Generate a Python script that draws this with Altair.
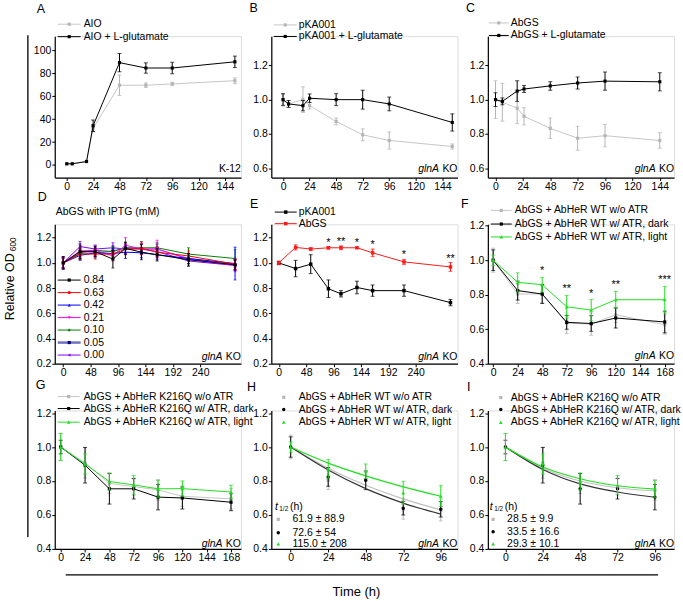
import altair as alt
import pandas as pd

FONT = "Liberation Sans"
LGRAY = "#c6c6c6"
PGRAY = "#b5b5b5"
BLK = "#000000"
GRN = "#1fe01f"
RED = "#ff1a1a"

# ---------------- data ----------------
# Panel A (K-12)
A_t = [0, 5, 18, 24, 48, 72, 96, 153]
A_aio = [1, 1, 3, 32, 69.6, 69.6, 70.7, 73.5]
A_aio_err = [0, 0, 0, 3, 9, 2, 1.5, 2.5]
A_glu = [1, 1, 3, 34.2, 89.3, 84.6, 84.6, 90.0]
A_glu_err = [0, 0, 0, 5, 8, 4.5, 5, 5]

# Panel B
B_t = [0, 5, 18, 24, 48, 72, 96, 153]
B_pka = [1.0, 0.975, 1.0, 0.965, 0.873, 0.795, 0.762, 0.727]
B_pka_err = [0.03, 0.02, 0.075, 0.02, 0.02, 0.035, 0.05, 0.015]
B_glu = [1.0, 0.975, 0.965, 1.008, 1.0, 1.0, 0.975, 0.867]
B_glu_err = [0.035, 0.02, 0.03, 0.025, 0.035, 0.055, 0.04, 0.05]

# Panel C
C_t = [0, 6, 19, 25, 48, 72, 96, 144]
C_abgs = [1.0, 0.985, 0.95, 0.903, 0.833, 0.775, 0.79, 0.762]
C_abgs_err = [0.11, 0.11, 0.09, 0.05, 0.06, 0.07, 0.065, 0.045]
C_glu = [1.0, 0.99, 1.05, 1.062, 1.08, 1.097, 1.108, 1.104]
C_glu_err = [0.04, 0.02, 0.06, 0.02, 0.025, 0.035, 0.053, 0.053]

# Panel D (IPTG series) and E share time points
DE_t = [0, 29.5, 56, 87, 109, 137, 164.5, 219.5, 301]
D_names = ["0.84", "0.63", "0.42", "0.21", "0.10", "0.05", "0.00"]
D_vals = [
    [1.0, 1.09, 1.09, 1.03, 1.115, 1.085, 1.065, 1.025, 0.985],
    [1.0, 1.07, 1.07, 1.07, 1.11, 1.115, 1.085, 1.055, 0.99],
    [1.0, 1.06, 1.08, 1.075, 1.085, 1.08, 1.065, 1.035, 0.995],
    [1.0, 1.095, 1.10, 1.055, 1.14, 1.11, 1.11, 1.03, 0.98],
    [1.0, 1.08, 1.10, 1.09, 1.12, 1.12, 1.12, 1.07, 1.035],
    [1.0, 1.075, 1.08, 1.095, 1.12, 1.11, 1.11, 1.035, 0.985],
    [1.0, 1.13, 1.11, 1.12, 1.11, 1.11, 1.09, 1.015, 0.98],
]
D_errs = [
    [0.05, 0.06, 0.04, 0.07, 0.05, 0.06, 0.05, 0.05, 0.04],
    [0.04, 0.04, 0.04, 0.03, 0.04, 0.05, 0.04, 0.04, 0.04],
    [0.05, 0.04, 0.04, 0.04, 0.05, 0.04, 0.04, 0.04, 0.13],
    [0.04, 0.04, 0.04, 0.04, 0.06, 0.04, 0.07, 0.04, 0.05],
    [0.04, 0.04, 0.04, 0.04, 0.04, 0.05, 0.04, 0.05, 0.07],
    [0.04, 0.04, 0.03, 0.04, 0.04, 0.04, 0.04, 0.04, 0.04],
    [0.04, 0.04, 0.03, 0.04, 0.04, 0.04, 0.04, 0.04, 0.04],
]
D_line_colors = ["#000000", "#ff0000", "#0000ff", "#ff00ff", "#008000", "#7070c0", "#8000ff"]
D_pt_colors = ["#000000", "#ff0000", "#0000ff", "#ff00ff", "#008000", "#000080", "#8000ff"]
D_shapes = ["square", "circle", "triangle-up", "triangle-down", "diamond", "square", "triangle-left"]

E_pka = [1.0, 0.955, 0.99, 0.795, 0.755, 0.805, 0.78, 0.78, 0.685]
E_pka_err = [0.01, 0.065, 0.075, 0.07, 0.025, 0.05, 0.045, 0.045, 0.025]
E_abgs = [1.0, 1.123, 1.11, 1.12, 1.12, 1.12, 1.08, 1.008, 0.968]
E_abgs_err = [0.015, 0.02, 0.01, 0.01, 0.015, 0.005, 0.03, 0.02, 0.035]
E_stars = ["", "", "", "*", "**", "*", "*", "*", "**"]

# Panel F (and H points)
F_t = [0, 24, 48, 72, 96, 120, 168]
F_wo = [1.0, 0.804, 0.804, 0.635, 0.63, 0.684, 0.626]
F_wo_err = [0.07, 0.055, 0.05, 0.06, 0.065, 0.045, 0.055]
F_dark = [1.0, 0.824, 0.804, 0.64, 0.633, 0.665, 0.642]
F_dark_err = [0.06, 0.055, 0.055, 0.04, 0.045, 0.058, 0.063]
F_light = [1.0, 0.872, 0.858, 0.73, 0.711, 0.771, 0.771]
F_light_err = [0.03, 0.055, 0.042, 0.066, 0.061, 0.048, 0.077]
F_stars = ["", "", "*", "**", "*", "**", "***"]

# Panel G (and I points)
G_t = [0, 24, 48, 72, 96, 120, 168]
G_wo = [1.0, 0.907, 0.786, 0.767, 0.748, 0.71, 0.695]
G_wo_err = [0.08, 0.09, 0.06, 0.05, 0.06, 0.06, 0.06]
G_dark = [1.0, 0.893, 0.754, 0.754, 0.705, 0.70, 0.675]
G_dark_err = [0.04, 0.105, 0.09, 0.06, 0.075, 0.065, 0.05]
G_light = [1.0, 0.90, 0.797, 0.777, 0.754, 0.755, 0.735]
G_light_err = [0.08, 0.06, 0.05, 0.055, 0.05, 0.045, 0.04]

# Fitted decay curves
FIT_t = [0, 24, 48, 72, 96]
H_fit_wo = [1.0, 0.875, 0.775, 0.695, 0.63]
H_fit_dark = [1.0, 0.865, 0.755, 0.67, 0.605]
H_fit_light = [1.0, 0.905, 0.83, 0.765, 0.71]
H_half = ["61.9 ± 88.9", "72.6 ± 54", "115.0 ± 208"]
I_fit_wo = [1.0, 0.875, 0.80, 0.76, 0.741]
I_fit_dark = [1.0, 0.868, 0.783, 0.735, 0.704]
I_fit_light = [1.0, 0.882, 0.813, 0.772, 0.752]
I_half = ["28.5 ± 9.9", "33.5 ± 16.6", "29.3 ± 10.1"]

WT_names = ["AbGS + AbHeR WT w/o ATR", "AbGS + AbHeR WT w/ ATR, dark", "AbGS + AbHeR WT w/ ATR, light"]
KQ_names = ["AbGS + AbHeR K216Q w/o ATR", "AbGS + AbHeR K216Q w/ ATR, dark", "AbGS + AbHeR K216Q w/ ATR, light"]

# ---------------- helpers ----------------
W = 187
H1, H2, H3 = 142, 140, 139
ONE = pd.DataFrame({"k": [0]})


def txt(x, y, s, size=10.5, align="left", baseline="alphabetic", style="normal", angle=None):
    kw = dict(text=s, align=align, baseline=baseline, fontSize=size, font=FONT,
              color="black", fontStyle=style)
    if angle is not None:
        kw["angle"] = angle
    return alt.Chart(ONE).mark_text(**kw).encode(x=alt.value(x), y=alt.value(y))


def hrule(x1, x2, y, color="black", width=1.0):
    return alt.Chart(ONE).mark_rule(color=color, strokeWidth=width).encode(
        x=alt.value(x1), x2=alt.value(x2), y=alt.value(y))


def vrule(x, y1, y2, color="black", width=1.0):
    return alt.Chart(ONE).mark_rule(color=color, strokeWidth=width).encode(
        x=alt.value(x), y=alt.value(y1), y2=alt.value(y2))


def marker(x, y, shape, color, size):
    return alt.Chart(ONE).mark_point(shape=shape, filled=True, size=size, color=color,
                                     opacity=1).encode(x=alt.value(x), y=alt.value(y))


def axis(values, fmt):
    return alt.Axis(values=values, format=fmt, grid=False, title=None, labelFont=FONT,
                    labelFontSize=10.5, labelColor="black", domainColor="black",
                    tickColor="black", tickSize=3, tickWidth=1, domainWidth=1.2,
                    labelPadding=1, labelOverlap=False, labelFlush=False)


def sc(dom):
    return alt.Scale(domain=dom, nice=False, zero=False)


class P:
    def __init__(self, xd, yd, xt, yt, yfmt=".1f"):
        self.xs, self.ys = sc(xd), sc(yd)
        self.xa, self.ya = axis(xt, "d"), axis(yt, yfmt)

    def X(self):
        return alt.X("t:Q", scale=self.xs, axis=self.xa)

    def Y(self, f):
        return alt.Y(f + ":Q", scale=self.ys, axis=self.ya)


def series(p, t, v, e, lc, pc, shape, size, line=True, cap=4, lw=1.0):
    df = pd.DataFrame({"t": t, "v": v, "e": e})
    df["lo"] = df.v - df.e
    df["hi"] = df.v + df.e
    de = df[df.e > 0]
    L = [
        alt.Chart(de).mark_rule(color=pc, strokeWidth=1).encode(x=p.X(), y=p.Y("lo"), y2="hi:Q"),
        alt.Chart(de).mark_tick(color=pc, orient="horizontal", size=cap, thickness=1).encode(x=p.X(), y=p.Y("hi")),
        alt.Chart(de).mark_tick(color=pc, orient="horizontal", size=cap, thickness=1).encode(x=p.X(), y=p.Y("lo")),
    ]
    if line:
        L.append(alt.Chart(df).mark_line(color=lc, strokeWidth=lw).encode(x=p.X(), y=p.Y("v")))
    L.append(alt.Chart(df).mark_point(shape=shape, filled=True, size=size, color=pc, opacity=1)
             .encode(x=p.X(), y=p.Y("v")))
    return L


def stars(p, t, v, e, labels, dy):
    df = pd.DataFrame({"t": t, "hi": [a + b for a, b in zip(v, e)], "lab": labels})
    df = df[df.lab != ""]
    return alt.Chart(df).mark_text(fontSize=11, font=FONT, color="black", baseline="alphabetic",
                                   dy=dy).encode(x=p.X(), y=p.Y("hi"), text="lab:N")


def fitline(p, t, v, color):
    df = pd.DataFrame({"t": t, "v": v})
    return alt.Chart(df).mark_line(color=color, strokeWidth=1.2, interpolate="monotone").encode(
        x=p.X(), y=p.Y("v"))


def leg_line(x1, x2, y, tx, label, lc, pc, shape, size, lw=1.0):
    return [hrule(x1, x2, y, lc, lw), marker((x1 + x2) / 2, y, shape, pc, size),
            txt(tx, y, label, baseline="middle")]


def leg_pt(mx, y, tx, label, pc, shape, size):
    return [marker(mx, y, shape, pc, size), txt(tx, y, label, baseline="middle")]


def glna(yb):
    return [txt(W, yb, "KO", align="right"), txt(W - 18.5, yb, "glnA", align="right", style="italic")]


def thalf(x, y):
    return [txt(x, y, "t", style="italic", baseline="middle"),
            txt(x + 4.3, y + 2, "1/2", size=6.5, baseline="middle"),
            txt(x + 15, y, "(h)", baseline="middle")]


# ---------------- panels ----------------
# A
pA = P([-10.9, 158.5], [-11.0, 112.4], [0, 24, 48, 72, 96, 120, 144], [0, 20, 40, 60, 80, 100], "d")
LA = [hrule(-54, -53.9, -34, "white", 0.1)]
LA += series(pA, A_t, A_aio, A_aio_err, LGRAY, PGRAY, "square", 10)
LA += series(pA, A_t, A_glu, A_glu_err, BLK, BLK, "square", 10)
LA += leg_line(3, 26, -12, 29, "AIO", LGRAY, PGRAY, "square", 10)
LA += leg_line(3, 26, 0.5, 29, "AIO + L-glutamate", BLK, BLK, "square", 10)
LA += [txt(W, 136, "K-12", align="right"), txt(-18, -23, "A", size=12.5)]
panelA = alt.layer(*LA).properties(width=W, height=H1)

# B
pB = P([-10.6, 157.7], [0.546, 1.370], [0, 24, 48, 72, 96, 120, 144], [0.6, 0.8, 1.0, 1.2])
LB = []
LB += series(pB, B_t, B_pka, B_pka_err, LGRAY, PGRAY, "square", 10)
LB += series(pB, B_t, B_glu, B_glu_err, BLK, BLK, "square", 10)
LB += leg_line(2.5, 25.5, -11.3, 27.5, "pKA001", LGRAY, PGRAY, "square", 10)
LB += leg_line(2.5, 25.5, 0.3, 27.5, "pKA001 + L-glutamate", BLK, BLK, "square", 10)
LB += glna(136) + [txt(-22, -24, "B", size=12.5)]
panelB = alt.layer(*LB).properties(width=W, height=H1)

# C
pC = P([-6.7, 156.5], [0.546, 1.370], [0, 24, 48, 72, 96, 120, 144], [0.6, 0.8, 1.0, 1.2])
LC = []
LC += series(pC, C_t, C_abgs, C_abgs_err, LGRAY, PGRAY, "square", 10)
LC += series(pC, C_t, C_glu, C_glu_err, BLK, BLK, "square", 10)
LC += leg_line(1, 21, -13.3, 23, "AbGS", LGRAY, PGRAY, "square", 10)
LC += leg_line(1, 21, -0.7, 23, "AbGS + L-glutamate", BLK, BLK, "square", 10)
LC += glna(136) + [txt(-22, -24, "C", size=12.5)]
panelC = alt.layer(*LC).properties(width=W, height=H1)

# D
pD = P([-14.8, 311.3], [0.2, 1.306], [0, 48, 96, 144, 192, 240], [0.2, 0.4, 0.6, 0.8, 1.0, 1.2])
LD = []
for i in reversed(range(len(D_names))):
    LD += series(pD, DE_t, D_vals[i], D_errs[i], D_line_colors[i], D_pt_colors[i], D_shapes[i], 9, cap=3)
for i, n in enumerate(D_names):
    LD += leg_line(3, 26, 56 + 12.55 * i, 29, n, D_line_colors[i], D_pt_colors[i], D_shapes[i], 10,
                   lw=2.5 if n == "0.05" else 1.0)
LD += [txt(1, -12, "AbGS with IPTG (mM)", baseline="middle")]
LD += glna(136) + [txt(-17, -23, "D", size=12.5)]
# shared y-axis title and bracket line
LD += [vrule(-27, -190, 314, "black", 1.3),
       txt(-41, 62.7, "Relative OD", size=12.5, align="center", angle=270),
       txt(-38.7, 20, "600", size=8.5, align="center", angle=270)]
panelD = alt.layer(*LD).properties(width=W, height=H2)

# E
pE = P([-13.1, 313.3], [0.2, 1.306], [0, 48, 96, 144, 192, 240], [0.2, 0.4, 0.6, 0.8, 1.0, 1.2])
LE = []
LE += series(pE, DE_t, E_pka, E_pka_err, BLK, BLK, "square", 12)
LE += series(pE, DE_t, E_abgs, E_abgs_err, RED, RED, "square", 12)
LE += [stars(pE, DE_t, E_abgs, E_abgs_err, E_stars, -1)]
LE += leg_line(3.5, 25.5, -12.3, 27.5, "pKA001", BLK, BLK, "square", 12)
LE += leg_line(3.5, 25.5, -0.7, 27.5, "AbGS", RED, RED, "square", 12)
LE += glna(136) + [txt(-21.5, -16, "E", size=12.5)]
panelE = alt.layer(*LE).properties(width=W, height=H2)

# F
pF = P([-5.2, 177.1], [0.4, 1.208], [0, 24, 48, 72, 96, 120, 144, 168], [0.4, 0.6, 0.8, 1.0, 1.2])
LF = []
LF += series(pF, F_t, F_wo, F_wo_err, LGRAY, PGRAY, "square", 10)
LF += series(pF, F_t, F_dark, F_dark_err, BLK, BLK, "square", 10)
LF += series(pF, F_t, F_light, F_light_err, GRN, GRN, "triangle-up", 14)
LF += [stars(pF, F_t, F_light, F_light_err, F_stars, -3)]
LF += leg_line(3, 24, -14, 27, WT_names[0], LGRAY, PGRAY, "square", 10)
LF += leg_line(3, 24, -0.3, 27, WT_names[1], BLK, BLK, "square", 10)
LF += leg_line(3, 24, 12.7, 27, WT_names[2], GRN, GRN, "triangle-up", 14)
LF += glna(135) + [txt(-27, -16, "F", size=12.5)]
panelF = alt.layer(*LF).properties(width=W, height=H2)

# G
pG = P([-5.9, 177.8], [0.4, 1.215], [0, 24, 48, 72, 96, 120, 144, 168], [0.4, 0.6, 0.8, 1.0, 1.2])
LG = []
LG += series(pG, G_t, G_wo, G_wo_err, LGRAY, PGRAY, "square", 10)
LG += series(pG, G_t, G_dark, G_dark_err, BLK, BLK, "square", 10)
LG += series(pG, G_t, G_light, G_light_err, GRN, GRN, "triangle-up", 14)
LG += leg_line(3, 25, -14, 29, KQ_names[0], LGRAY, PGRAY, "square", 10)
LG += leg_line(3, 25, -2, 29, KQ_names[1], BLK, BLK, "square", 10)
LG += leg_line(3, 25, 11.7, 29, KQ_names[2], GRN, GRN, "triangle-up", 14)
LG += glna(137) + [txt(-19, -22, "G", size=12.5)]
panelG = alt.layer(*LG).properties(width=W, height=H3)

# H
pH = P([-12.4, 106.7], [0.4, 1.215], [0, 24, 48, 72, 96], [0.4, 0.6, 0.8, 1.0, 1.2])
LH = [fitline(pH, FIT_t, H_fit_wo, "#c0c0c0"), fitline(pH, FIT_t, H_fit_dark, "#333333"),
      fitline(pH, FIT_t, H_fit_light, GRN)]
LH += series(pH, F_t[:5], F_wo[:5], F_wo_err[:5], LGRAY, PGRAY, "square", 10, line=False)
LH += series(pH, F_t[:5], F_dark[:5], F_dark_err[:5], BLK, BLK, "circle", 12, line=False)
LH += series(pH, F_t[:5], F_light[:5], F_light_err[:5], GRN, GRN, "triangle-up", 14, line=False)
LH += leg_pt(12.5, -13.3, 27.5, WT_names[0], PGRAY, "square", 10)
LH += leg_pt(12.5, -1, 27.5, WT_names[1], BLK, "circle", 12)
LH += leg_pt(12.5, 11.7, 27.5, WT_names[2], GRN, "triangle-up", 14)
LH += thalf(3.7, 96.7)
LH += leg_pt(7, 109.3, 21.3, H_half[0], PGRAY, "square", 10)
LH += leg_pt(7, 122.7, 21.3, H_half[1], BLK, "circle", 12)
LH += leg_pt(7, 134, 21.3, H_half[2], GRN, "triangle-up", 14)
LH += glna(137) + [txt(-24.5, -20, "H", size=12.5)]
LH += [hrule(-206.5, 388.5, 165, "black", 1.3), txt(85.5, 186, "Time (h)", size=13, align="center")]
panelH = alt.layer(*LH).properties(width=W, height=H3)

# I
pI = P([-11.3, 108.3], [0.4, 1.215], [0, 24, 48, 72, 96], [0.4, 0.6, 0.8, 1.0, 1.2])
LI = [fitline(pI, FIT_t, I_fit_wo, "#c0c0c0"), fitline(pI, FIT_t, I_fit_dark, "#333333"),
      fitline(pI, FIT_t, I_fit_light, GRN)]
LI += series(pI, G_t[:5], G_wo[:5], G_wo_err[:5], LGRAY, PGRAY, "square", 10, line=False)
LI += series(pI, G_t[:5], G_dark[:5], G_dark_err[:5], BLK, BLK, "circle", 12, line=False)
LI += series(pI, G_t[:5], G_light[:5], G_light_err[:5], GRN, GRN, "triangle-up", 14, line=False)
LI += leg_pt(13, -13, 23, KQ_names[0], PGRAY, "square", 10)
LI += leg_pt(13, -1, 23, KQ_names[1], BLK, "circle", 12)
LI += leg_pt(13, 12, 23, KQ_names[2], GRN, "triangle-up", 14)
LI += thalf(2, 97.3)
LI += leg_pt(5.3, 109.3, 19.3, I_half[0], PGRAY, "square", 10)
LI += leg_pt(5.3, 121.7, 19.3, I_half[1], BLK, "circle", 12)
LI += leg_pt(5.3, 134, 19.3, I_half[2], GRN, "triangle-up", 14)
LI += glna(137) + [txt(-21, -20, "I", size=12.5)]
panelI = alt.layer(*LI).properties(width=W, height=H3)

chart = alt.concat(
    panelA, panelB, panelC, panelD, panelE, panelF, panelG, panelH, panelI,
    columns=3, spacing={"row": 47, "column": 30.5}, bounds="flush",
    padding={"left": 0, "top": 0, "right": 0, "bottom": 0},
).configure_view(strokeWidth=0).configure(background="white")

chart.save("out.html", embed_options={"renderer": "svg", "actions": False})
